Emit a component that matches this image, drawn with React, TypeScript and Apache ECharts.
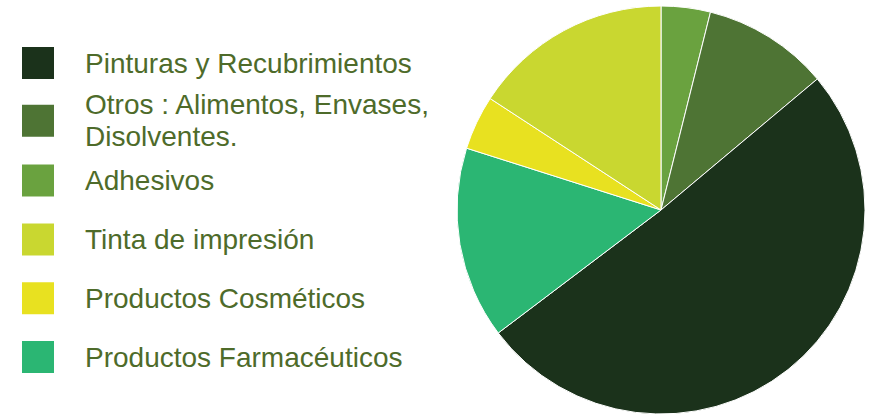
import React, { useEffect, useRef } from "react";
import * as echarts from "echarts";

// Slices in clockwise order starting at 12 o'clock
const sliceNames = [
  "Adhesivos",
  "Otros : Alimentos, Envases,\nDisolventes.",
  "Pinturas y Recubrimientos",
  "Productos Farmacéuticos",
  "Productos Cosméticos",
  "Tinta de impresión",
];
const sliceValues = [3.9, 10, 50.8, 15.2, 4.3, 15.8];
const sliceColors = ["#6aa23f", "#4e7434", "#1b321b", "#2bb673", "#e8e120", "#c9d730"];

// Legend order as shown top to bottom
const legendOrder = [
  "Pinturas y Recubrimientos",
  "Otros : Alimentos, Envases,\nDisolventes.",
  "Adhesivos",
  "Tinta de impresión",
  "Productos Cosméticos",
  "Productos Farmacéuticos",
];

export default function App() {
  const ref = useRef<HTMLDivElement>(null);
  useEffect(() => {
    if (!ref.current) return;
    const chart = echarts.init(ref.current, null, { renderer: "svg" });
    const squareTop0 = 45;
    const step = 58.8;
    const legends = legendOrder.map((name, i) => {
      const lines = name.split("\n").length;
      const extra = lines > 1 ? ((lines * 32) - 34) / 2 : 0;
      return {
        show: true,
        orient: "vertical",
        left: 20,
        top: squareTop0 + i * step - extra,
        padding: 0,
        itemWidth: 34,
        itemHeight: 34,
        icon: "rect",
        selectedMode: false,
        data: [name],
        textStyle: {
          fontSize: 28,
          lineHeight: 32,
          color: "#4e6b2a",
          fontFamily: "'Liberation Sans', Arial, sans-serif",
          padding: [0, 0, 0, 25],
        },
      };
    });
    chart.setOption({
      animation: false,
      backgroundColor: "#ffffff",
      color: sliceColors,
      legend: legends,
      series: [
        {
          type: "pie",
          center: [661, 210],
          radius: 204,
          startAngle: 90,
          clockwise: true,
          label: { show: false },
          labelLine: { show: false },
          emphasis: { disabled: true },
          itemStyle: { borderColor: "#ffffff", borderWidth: 1 },
          data: sliceNames.map((n, i) => ({ name: n, value: sliceValues[i] })),
        },
      ],
    });
    return () => chart.dispose();
  }, []);
  return (
    <div
      ref={ref}
      style={{ position: "fixed", left: 0, top: 0, width: 873, height: 415 }}
    />
  );
}
